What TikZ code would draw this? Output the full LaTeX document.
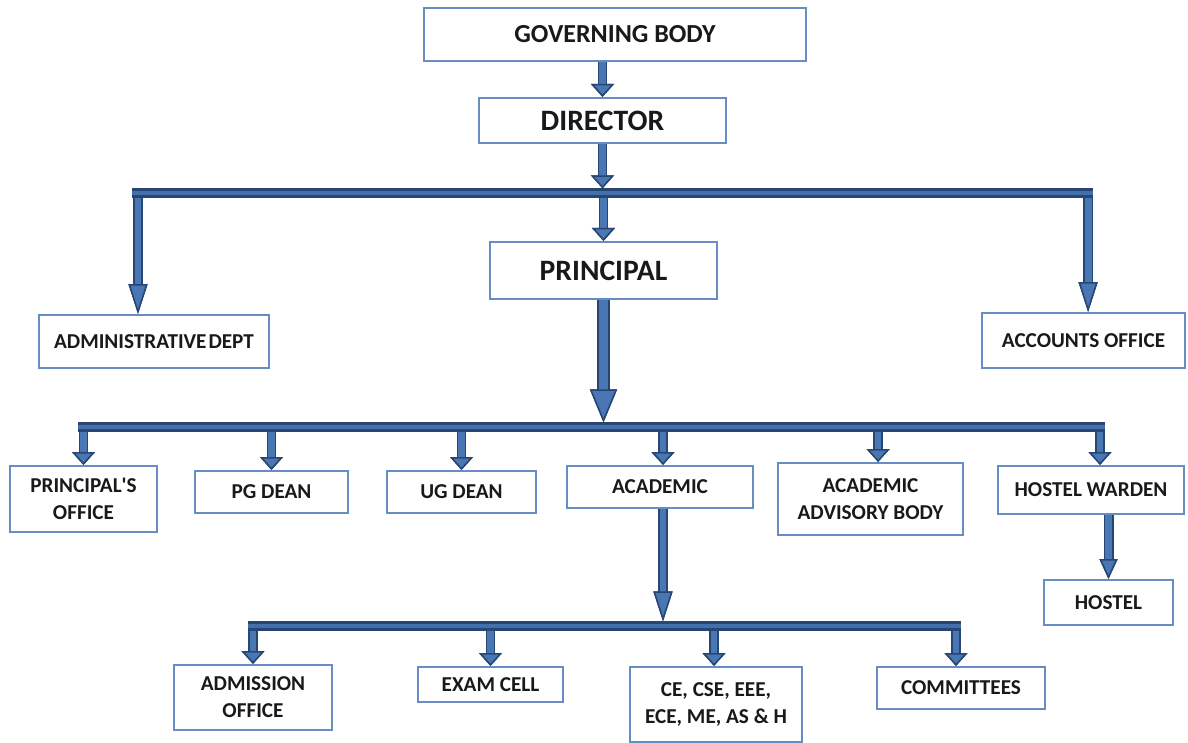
\documentclass[tikz,border=0pt]{standalone}
\usepackage{fontspec}
\setmainfont{Carlito}
\usetikzlibrary{arrows.meta}
\definecolor{cadre}{RGB}{104,141,196}
\definecolor{bleu}{RGB}{72,119,180}
\definecolor{bleufonce}{RGB}{40,70,115}
\tikzset{
  boite/.style={draw=cadre, line width=1pt, fill=white, text=black!90, align=center, inner sep=0pt, font=\bfseries\fontsize{10.6}{13.5}\selectfont},
  titre/.style={font=\bfseries\fontsize{14.8}{16}\selectfont},
  fleche/.style n args={3}{line width=#1-1.6pt, draw=bleu,
    -{Triangle[width=#2,length=#3,line width=0.75pt,color=bleufonce,fill=bleu]},
    preaction={draw=bleufonce, line width=#1, -{Triangle[width=#2,length=#3,line width=0.75pt]}}},
  fl/.style={fleche={4.8pt}{11.5pt}{6.5pt}},
  flong/.style={fleche={5pt}{9.5pt}{15pt}},
  barre/.style={draw=bleufonce, line width=1.2pt, double=bleu!85!bleufonce, double distance=2.3pt},
}
\begin{document}
\begin{tikzpicture}[x=0.5pt,y=-0.5pt] % origine en haut à gauche, une unité = un pixel de l'image
\useasboundingbox (0,0) rectangle (1188,743);

\node[boite,minimum width=191pt,minimum height=26.5pt,font=\bfseries\fontsize{13}{14}\selectfont] (gov) at (615,34.5) {GOVERNING BODY};
\node[boite,titre,minimum width=123.5pt,minimum height=22.5pt] (dir) at (602.5,120.5) {DIRECTOR};
\node[boite,titre,minimum width=113.5pt,minimum height=28.5pt] (prin) at (603.5,270.5) {PRINCIPAL};
\node[boite,minimum width=115pt,minimum height=26.5pt] (admin) at (154,341.5) {ADMINISTRATIVE\hspace{1pt}DEPT};
\node[boite,minimum width=101.5pt,minimum height=27.5pt] (acc) at (1083.5,340.5) {ACCOUNTS OFFICE};
\node[boite,minimum width=73.5pt,minimum height=33pt] (poff) at (83.5,499) {PRINCIPAL\textquotesingle S\\OFFICE};
\node[boite,minimum width=76.5pt,minimum height=21pt] (pg) at (271.5,492) {PG DEAN};
\node[boite,minimum width=74.5pt,minimum height=21pt] (ug) at (461.5,492) {UG DEAN};
\node[boite,minimum width=93pt,minimum height=21pt] (acad) at (660,487) {ACADEMIC};
\node[boite,minimum width=92.5pt,minimum height=36pt] (aab) at (870.5,499) {ACADEMIC\\ADVISORY BODY};
\node[boite,minimum width=93pt,minimum height=24pt] (hw) at (1091,490) {HOSTEL WARDEN};
\node[boite,minimum width=64.5pt,minimum height=22.5pt] (hostel) at (1108.5,602.5) {HOSTEL};
\node[boite,minimum width=79pt,minimum height=32.5pt] (adm) at (253,697.5) {ADMISSION\\OFFICE};
\node[boite,minimum width=72.5pt,minimum height=17.5pt] (exam) at (490.5,684.5) {EXAM CELL};
\node[boite,minimum width=86pt,minimum height=37.5pt] (ce) at (716,704.5) {CE, CSE, EEE,\\ECE, ME, AS \& H};
\node[boite,minimum width=84pt,minimum height=21pt] (com) at (961,688) {COMMITTEES};

% barres horizontales
\coordinate (b1) at (132,193); \coordinate (b1r) at (1093,193);
\coordinate (b2) at (78,427); \coordinate (b2r) at (1105,427);
\coordinate (b3) at (248,626); \coordinate (b3r) at (961,626);

\draw[fl] (dir.north |- gov.south) -- (dir.north);
\draw[fl] (dir.south) -- ([yshift=2.3pt]dir.south |- b1);
\draw[fl] (prin.north |- b1) -- (prin.north);
\draw[flong] ([xshift=-8pt]admin.north |- b1) -- ([xshift=-8pt]admin.north);
\draw[flong] ([xshift=2.3pt]acc.north |- b1) -- ([xshift=2.3pt]acc.north);
\draw[fleche={6.5pt}{13.5pt}{16.5pt}] (prin.south) -- ([yshift=2.3pt]prin.south |- b2);
\draw[fl] (poff.north |- b2) -- (poff.north);
\draw[fl] (pg.north |- b2) -- (pg.north);
\draw[fl] (ug.north |- b2) -- (ug.north);
\draw[fl] ([xshift=1.5pt]acad.north |- b2) -- ([xshift=1.5pt]acad.north);
\draw[fl] ([xshift=3.8pt]aab.north |- b2) -- ([xshift=3.8pt]aab.north);
\draw[fl] ([xshift=4.5pt]hw.north |- b2) -- ([xshift=4.5pt]hw.north);
\draw[fleche={5pt}{9pt}{10pt}] (hostel.north |- hw.south) -- (hostel.north);
\draw[flong] ([xshift=1.5pt]acad.south) -- ([xshift=1.5pt,yshift=2.3pt]acad.south |- b3);
\draw[fl] (adm.north |- b3) -- (adm.north);
\draw[fl] (exam.north |- b3) -- (exam.north);
\draw[fl] ([xshift=-1pt]ce.north |- b3) -- ([xshift=-1pt]ce.north);
\draw[fl] ([xshift=-2.5pt]com.north |- b3) -- ([xshift=-2.5pt]com.north);

\draw[barre] (b1) -- (b1r) (b2) -- (b2r) (b3) -- (b3r);
\end{tikzpicture}
\end{document}
